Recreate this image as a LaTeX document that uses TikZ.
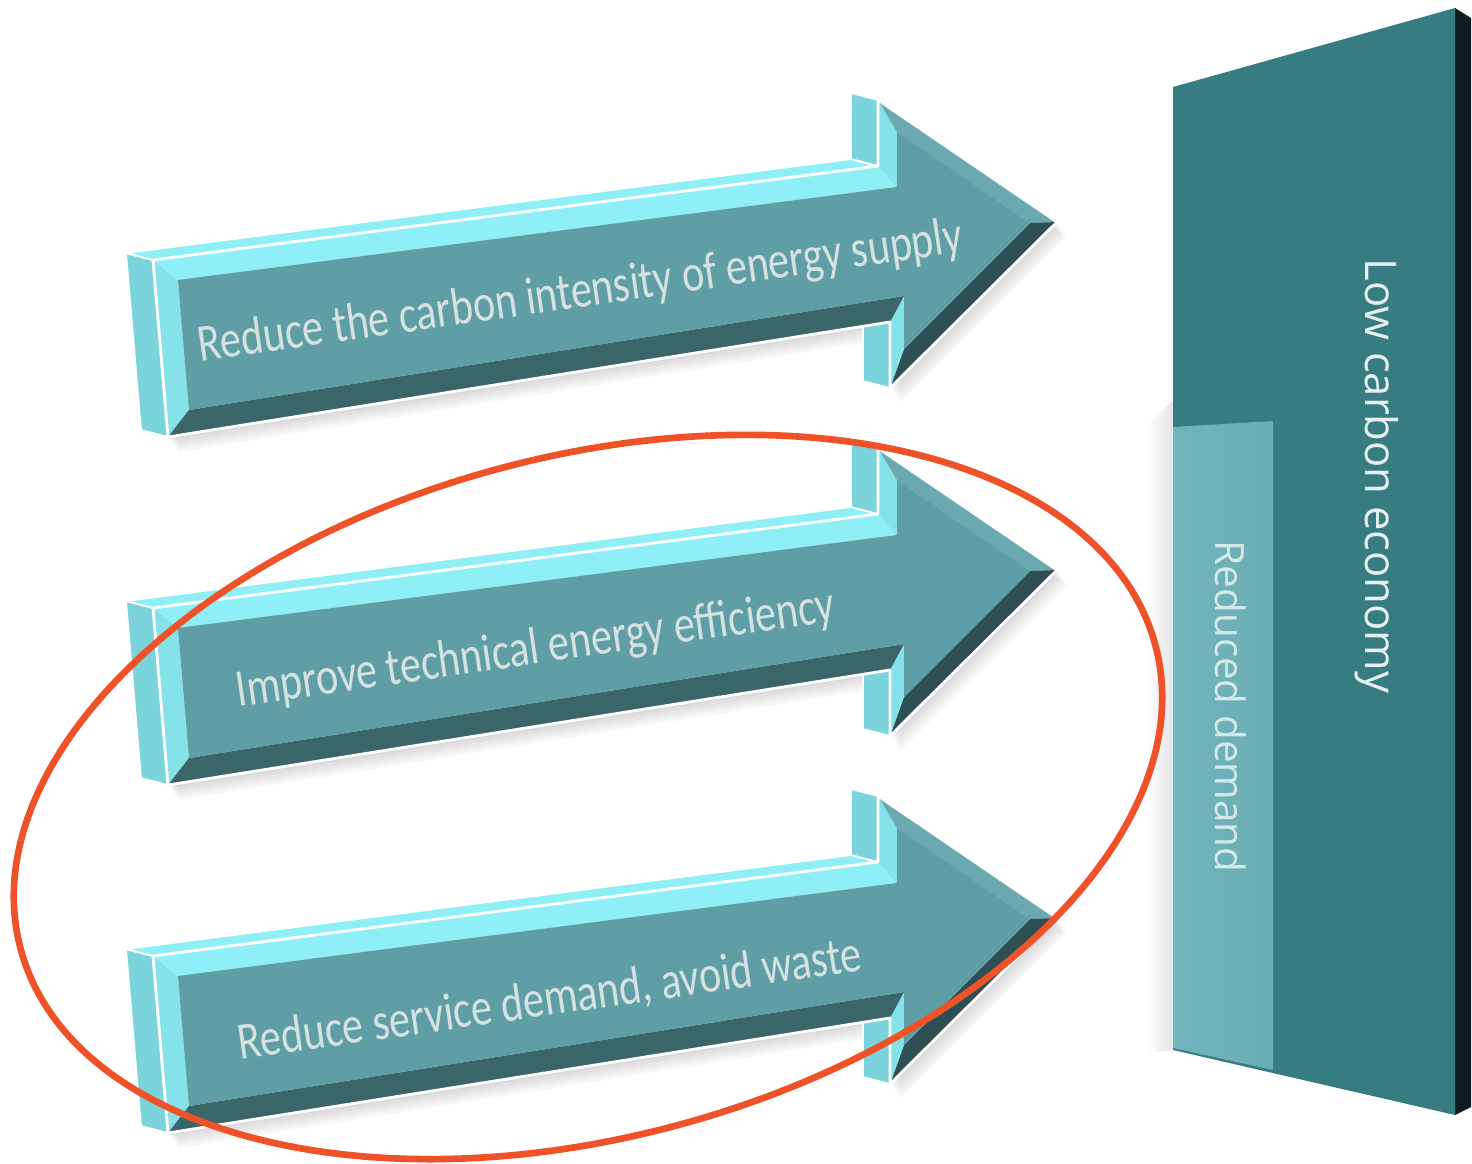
\documentclass[tikz,border=0pt]{standalone}
\usepackage{fontspec}
\setmainfont{Carlito}
\newfontfamily\slabfont{Open Sans}
\usetikzlibrary{calc}

\definecolor{arrowface}{HTML}{5F9EA4}
\definecolor{arrowside}{HTML}{7BD4DC}
\definecolor{arrowtop}{HTML}{8EEFF6}
\definecolor{bevellight}{HTML}{86E2E9}
\definecolor{bevelhead}{HTML}{69A9AF}
\definecolor{beveldark}{HTML}{2D4F54}
\definecolor{bevelbottom}{HTML}{3A6569}
\definecolor{slabface}{HTML}{377C81}
\definecolor{slabside}{HTML}{0E1C1F}
\definecolor{slablight}{HTML}{72B4BB}
\definecolor{labeltext}{HTML}{D6E1E1}
\definecolor{ringred}{HTML}{EF5228}

\begin{document}
\begin{tikzpicture}[x=0.01cm, y=-0.01cm,
  sideface/.style={fill=arrowside, draw=white, line width=0.5pt, line join=round},
  topface/.style={fill=arrowtop, draw=white, line width=0.5pt, line join=round},
  rim/.style={draw=white, line width=0.8pt, line join=round},
  arrowtext/.style={text=labeltext, font=\fontsize{15}{18}\selectfont, anchor=base west, inner sep=0pt},
  slabtext/.style={font=\slabfont, rotate=-90, anchor=base west, inner sep=0pt},
  ring/.style={draw=ringred, line width=1.9pt}]

\useasboundingbox (0,0) rectangle (1472,1163);

% the three arrows, one below the other
\foreach \dy/\name/\dx/\by/\txt in {
    0/supply/200/362/{Reduce the carbon intensity of energy supply},
    348/efficiency/238/359/{Improve technical energy efficiency},
    696/waste/240/364/{Reduce service demand, avoid waste}} {
\begin{scope}[shift={(0,\dy)}]
  % soft shadow
  \foreach \k in {1,...,5}
    \fill[black, opacity=0.03, shift={(2*\k,3*\k)}] (153,260) -- (878,166) -- (878,100) -- (1057,222) -- (890,388) -- (890,322) -- (168,437) -- cycle;
  % depth faces
  \path[sideface] (153,260) -- (168,437) -- (141,430) -- (126,253) -- cycle;
  \path[topface] (153,260) -- (878,166) -- (851,159) -- (126,253) -- cycle;
  \path[sideface] (878,166) -- (878,100) -- (851,93) -- (851,159) -- cycle;
  \path[sideface] (890,322) -- (890,388) -- (863,381) -- (863,315) -- cycle;
  % bevel of the front face
  \fill[bevellight] (153,260) -- (168,437) -- (189,410) -- (178,280) -- cycle;
  \fill[arrowtop] (153,260) -- (878,166) -- (897,187) -- (178,280) -- cycle;
  \fill[bevellight] (878,166) -- (878,100) -- (897,132) -- (897,187) -- cycle;
  \fill[bevelhead] (878,100) -- (1057,222) -- (1030,223) -- (897,132) -- cycle;
  \fill[beveldark] (1057,222) -- (890,388) -- (904,349) -- (1030,223) -- cycle;
  \fill[bevellight] (890,388) -- (890,322) -- (904,296) -- (904,349) -- cycle;
  \fill[bevelbottom] (890,322) -- (168,437) -- (189,410) -- (904,296) -- cycle;
  % flat front
  \fill[arrowface] (178,280) -- (897,187) -- (897,132) -- (1030,223) -- (904,349) -- (904,296) -- (189,410) -- cycle;
  \draw[rim] (153,260) -- (878,166) -- (878,100) -- (1057,222) -- (890,388) -- (890,322) -- (168,437) -- cycle;
  \node[arrowtext, rotate=8.2, xscale=0.80] (\name) at (\dx,\by) {\txt};
\end{scope}
}

% the slab on the right
\foreach \k in {1,...,6}
  \fill[black, opacity=0.015] (1173-4*\k,400+4*\k) -- (1173,400) -- (1173,1050) -- (1173-4*\k,1052) -- cycle;
\fill[slabside] (1455,8) -- (1471,18) -- (1471,1107) -- (1455,1115) -- cycle;
\fill[slabface] (1173,87) -- (1455,8) -- (1455,1115) -- (1173,1050) -- cycle;
\path[left color=slablight, right color=slablight!88!slabface] (1173,427) -- (1273,421) -- (1273,1070) -- (1173,1048) -- cycle;
\node[slabtext, text=white!88!slabface, font=\slabfont\fontsize{12.4}{15}\selectfont] (economy) at (1365,258) {Low carbon economy};
\node[slabtext, text=white!70!slablight, font=\slabfont\fontsize{11.5}{14}\selectfont] (demand) at (1215,540) {Reduced demand};

% ring round the demand side
\draw[ring, rotate around={15:(588,797)}] (588,797) ellipse [x radius=5.87cm, y radius=3.4cm];
\end{tikzpicture}
\end{document}
